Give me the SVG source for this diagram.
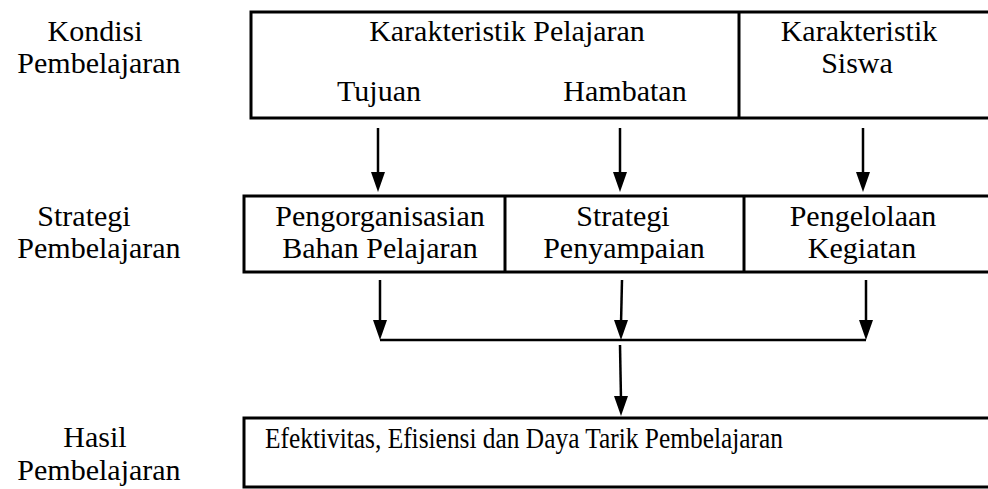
<svg xmlns="http://www.w3.org/2000/svg" width="988" height="489" viewBox="0 0 988 489">
<style>
text{font-family:"Liberation Serif","Times New Roman",serif;font-size:30px;fill:#000;text-anchor:middle}
.box{fill:#fff;stroke:#000;stroke-width:3}
.ln{stroke:#000;stroke-width:2.5;fill:none}
.bl{stroke:#000;stroke-width:3;fill:none}
.hd{fill:#000}
</style>
<g id="labels">
<text x="95" y="41">Kondisi</text>
<text x="99" y="73">Pembelajaran</text>
<text x="84" y="226">Strategi</text>
<text x="99" y="258">Pembelajaran</text>
<text x="95" y="447">Hasil</text>
<text x="99" y="480">Pembelajaran</text>
</g>
<g id="kondisi">
<rect class="box" x="251" y="12" width="760" height="106"/>
<line class="bl" x1="739" y1="12" x2="739" y2="118"/>
<text x="507" y="41">Karakteristik Pelajaran</text>
<text x="379" y="101">Tujuan</text>
<text x="625" y="101">Hambatan</text>
<text x="859" y="41">Karakteristik</text>
<text x="857" y="73">Siswa</text>
</g>
<g id="strategi">
<rect class="box" x="244" y="196" width="767" height="76"/>
<line class="bl" x1="505" y1="196" x2="505" y2="272"/>
<line class="bl" x1="744" y1="196" x2="744" y2="272"/>
<text x="380" y="226">Pengorganisasian</text>
<text x="380" y="258">Bahan Pelajaran</text>
<text x="623" y="226">Strategi</text>
<text x="624" y="258">Penyampaian</text>
<text x="863" y="226">Pengelolaan</text>
<text x="862" y="258">Kegiatan</text>
</g>
<g id="hasil">
<rect class="box" x="244" y="418" width="767" height="69"/>
<text x="524" y="448" style="font-size:29px" textLength="518" lengthAdjust="spacingAndGlyphs">Efektivitas, Efisiensi dan Daya Tarik Pembelajaran</text>
</g>
<g id="connectors">
<path d="M378,128 L378,176" class="ln"/><path class="hd" d="M371,172 L385,172 L378,192 Z"/>
<path d="M620,128 L620,176" class="ln"/><path class="hd" d="M613,172 L627,172 L620,192 Z"/>
<path d="M863,128 L863,176" class="ln"/><path class="hd" d="M856,172 L870,172 L863,192 Z"/>
<path d="M380,280 L380,324" class="ln"/><path class="hd" d="M373,320 L387,320 L380,340 Z"/>
<path d="M622,280 L621,324" class="ln"/><path class="hd" d="M614,320 L628,320 L621,340 Z"/>
<path d="M866,280 L866,324" class="ln"/><path class="hd" d="M859,320 L873,320 L866,340 Z"/>
<path d="M380,340 L866,340" class="ln"/>
<path d="M620,345 L621,400" class="ln"/><path class="hd" d="M614,396 L628,396 L621,416 Z"/>
</g>
</svg>
